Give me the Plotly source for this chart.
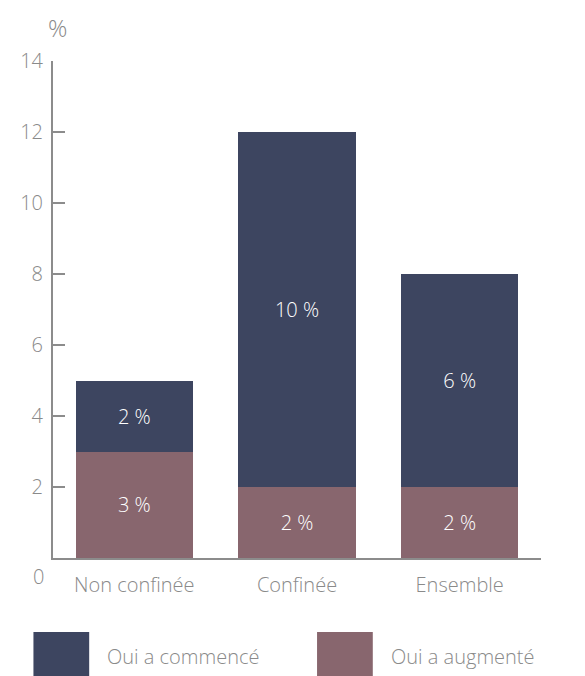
import plotly.graph_objects as go

categories = ["Non confinée", "Confinée", "Ensemble"]
augmente = [3, 2, 2]
commence = [2, 10, 6]
series_names = ["Oui a augmenté", "Oui a commencé"]
y_ticks = [2, 4, 6, 8, 10, 12, 14]

NAVY = "#3d4560"
MAUVE = "#88666e"
GREY = "#8a8a8a"
AXIS = "#8c8c8c"
FONT = "Open Sans"
FW = 300

# page body has an 8px default margin; positions below are window pixels
OFF = 8
WIN_W, WIN_H = 585, 676
W, H = WIN_W - OFF, WIN_H - OFF
plot_left, plot_right, plot_top, plot_bottom = 42, 541, 61, 558
ml = plot_left - OFF
mt = plot_top - OFF
mr = WIN_W - plot_right
mb = WIN_H - plot_bottom
pw = W - ml - mr
ph = H - mt - mb

def px_x(x):
    return (x - OFF - ml) / pw

def px_y(y):
    return (H - mb - (y - OFF)) / ph

fig = go.Figure()
for vals, name, col in [(augmente, series_names[0], MAUVE), (commence, series_names[1], NAVY)]:
    fig.add_trace(go.Bar(
        x=categories, y=vals, name=name, marker_color=col,
        marker_line_width=0,
        texttemplate="%{y} %", textposition="inside", insidetextanchor="middle",
        textfont=dict(color="white", size=20, family=FONT, weight=FW),
    ))

tf = dict(size=20, color=GREY, family=FONT, weight=FW)
fig.update_layout(
    width=W, height=H,
    barmode="stack", bargap=0.28,
    showlegend=False,
    plot_bgcolor="white", paper_bgcolor="white",
    margin=dict(l=ml, r=mr, t=mt, b=mb),
    font=tf,
    xaxis=dict(
        showline=True, linecolor=AXIS, linewidth=2,
        ticks="", tickfont=tf, ticklabelstandoff=8,
    ),
    yaxis=dict(
        range=[0, 14], tickvals=y_ticks,
        showline=True, linecolor=AXIS, linewidth=2,
        ticks="inside", ticklen=12, tickwidth=2, tickcolor=AXIS,
        showgrid=False, zeroline=False,
        tickfont=tf, ticklabelstandoff=4,
    ),
)

fig.add_annotation(text="0", xref="paper", yref="paper", x=px_x(27), y=px_y(576),
                   xanchor="center", yanchor="middle", showarrow=False, font=tf)
fig.add_annotation(text="%", xref="paper", yref="paper", x=px_x(47), y=px_y(28),
                   xanchor="center", yanchor="middle", showarrow=False,
                   font=dict(size=24, color=GREY, family=FONT, weight=FW))

legend_items = [(series_names[1], NAVY, 22, 97), (series_names[0], MAUVE, 312, 388)]
for name, col, sx, tx in legend_items:
    fig.add_shape(type="rect", xref="paper", yref="paper",
                  x0=px_x(sx), x1=px_x(sx + 57), y0=px_y(676), y1=px_y(632),
                  fillcolor=col, line_width=0)
    fig.add_annotation(text=name, xref="paper", yref="paper", x=px_x(tx - 2), y=px_y(656),
                       xanchor="left", yanchor="middle", showarrow=False,
                       font=dict(size=20, color=GREY, family=FONT, weight=FW))

fig.write_html("out.html")
